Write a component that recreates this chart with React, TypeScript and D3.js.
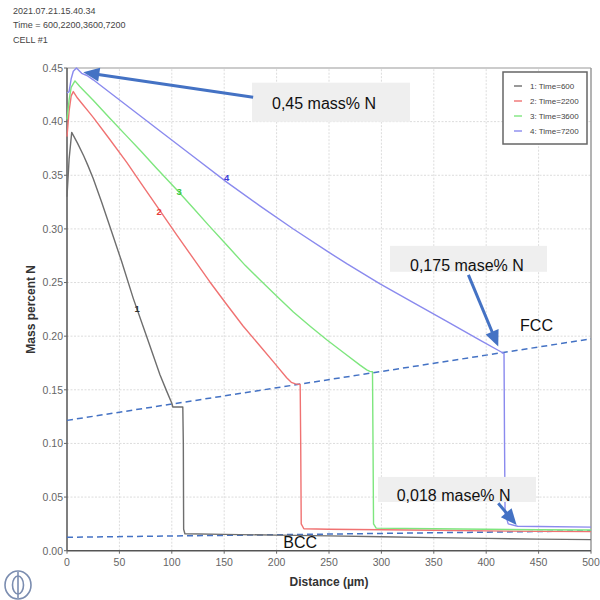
import React from "react";
import * as d3 from "d3";

// Nitrogen profiles across the cell at four diffusion times
const seriesNames = ["1:  Time=600", "2:  Time=2200", "3:  Time=3600", "4:  Time=7200"];
const seriesColors = ["#6e6e6e", "#f07272", "#7ee67e", "#8a8aee"];

const dist600 = [0, 2, 4.5, 10, 16, 20, 25, 33, 41, 52, 63.3, 76, 88.7, 95, 100, 101, 110.5, 111, 111.3, 112.5, 150, 200, 250, 300, 350, 400, 450, 500];
const mass600 = [0.33, 0.365, 0.39, 0.38, 0.368, 0.359, 0.347, 0.325, 0.302, 0.27, 0.235, 0.1996, 0.164, 0.149, 0.1375, 0.134, 0.134, 0.1, 0.02, 0.0158, 0.0152, 0.0145, 0.0138, 0.013, 0.0122, 0.0115, 0.0108, 0.0103];

const dist2200 = [0, 2, 4, 6, 10, 15, 20, 25, 40, 57, 72, 88.7, 105, 120.5, 136, 152.4, 168, 184, 197, 209.6, 214, 218, 222.5, 223, 223.5, 226, 250, 300, 350, 400, 450, 500];
const mass2200 = [0.386, 0.41, 0.424, 0.428, 0.422, 0.416, 0.41, 0.404, 0.3845, 0.362, 0.3405, 0.317, 0.294, 0.2725, 0.251, 0.2295, 0.2095, 0.191, 0.176, 0.1612, 0.157, 0.1555, 0.155, 0.1, 0.025, 0.0205, 0.02, 0.0195, 0.019, 0.0185, 0.018, 0.0178];

const dist3600 = [0, 2, 4, 7.6, 12, 18, 25, 40, 57, 70, 85, 104.7, 120, 135, 152.4, 170, 184, 200, 216, 232, 247.8, 265, 279.6, 286, 289, 291.5, 292, 292.5, 295, 350, 400, 450, 500];
const mass3600 = [0.402, 0.42, 0.432, 0.438, 0.433, 0.427, 0.42, 0.404, 0.3865, 0.373, 0.357, 0.3365, 0.32, 0.3035, 0.285, 0.266, 0.2525, 0.2375, 0.2225, 0.2092, 0.1966, 0.1838, 0.173, 0.1686, 0.1672, 0.1668, 0.1, 0.025, 0.021, 0.0205, 0.02, 0.0195, 0.0193];

const dist7200 = [0, 2, 4, 6, 9, 14, 19, 25, 57, 88.7, 120.5, 152.4, 184, 216, 250, 266.9, 298.7, 330.5, 362, 394, 414.8, 417, 417.5, 418, 421, 430, 450, 500];
const mass7200 = [0.4267, 0.428, 0.44, 0.447, 0.45, 0.445, 0.443, 0.439, 0.415, 0.3913, 0.3675, 0.3436, 0.3215, 0.2999, 0.2781, 0.2676, 0.2488, 0.2313, 0.214, 0.1964, 0.185, 0.184, 0.1, 0.035, 0.025, 0.0228, 0.0225, 0.022];

// Curve number labels (distance, mass%)
const curveLabels = ["1", "2", "3", "4"];
const curveLabelX = [67, 88, 107, 152.4];
const curveLabelY = [0.226, 0.316, 0.335, 0.348];

// Phase boundary guide lines (distance, mass%)
const fccLineX = [0, 500];
const fccLineY = [0.1215, 0.1975];
const bccLineX = [0, 500];
const bccLineY = [0.0125, 0.0185];

const xTicks = [0, 50, 100, 150, 200, 250, 300, 350, 400, 450, 500];
const yTicks = [0, 0.05, 0.1, 0.15, 0.2, 0.25, 0.3, 0.35, 0.4, 0.45];

const headerLines = ["2021.07.21.15.40.34", "Time = 600,2200,3600,7200", "CELL #1"];

// Callouts: box corners, text anchor and arrow tail/tip in data units
const calloutTexts = ["0,45 mass% N", "0,175 mase% N", "0,018 mase% N"];
const calloutBoxX = [[176.5, 327.3], [308.2, 458], [296.8, 447.5]];
const calloutBoxY = [[0.4363, 0.3999], [0.2842, 0.26], [0.0688, 0.0454]];
const calloutTextX = [195.6, 327.3, 314.6];
const calloutTextY = [0.412, 0.2606, 0.0461];
const arrowFrom = [[177.6, 0.4227], [383, 0.2572], [411.5, 0.0442]];
const arrowTo = [[15.6, 0.446], [411.5, 0.1903], [429, 0.024]];

const phaseNames = ["FCC", "BCC"];
const phaseX = [432.3, 206.4];
const phaseY = [0.2045, 0.0022];

const W = 600;
const H = 600;
const margin = { top: 68, right: 9, bottom: 49.3, left: 67 };
const FONT = "'Liberation Sans', Arial, Helvetica, sans-serif";
const ARROW = "#4472c4";

export default function App() {
  const x = d3.scaleLinear().domain([0, 500]).range([margin.left, W - margin.right]);
  const y = d3.scaleLinear().domain([0, 0.45]).range([H - margin.bottom, margin.top]);

  const series = [
    [dist600, mass600],
    [dist2200, mass2200],
    [dist3600, mass3600],
    [dist7200, mass7200],
  ];
  const line = d3
    .line<[number, number]>()
    .x((d) => x(d[0]))
    .y((d) => y(d[1]));

  const arrowHead = (fx: number, fy: number, tx: number, ty: number, len: number, half: number) => {
    const dx = tx - fx;
    const dy = ty - fy;
    const L = Math.hypot(dx, dy);
    const ux = dx / L;
    const uy = dy / L;
    const bx = tx - ux * len;
    const by = ty - uy * len;
    return {
      shaftEnd: [bx + ux * 1, by + uy * 1],
      points: `${tx},${ty} ${bx - uy * half},${by + ux * half} ${bx + uy * half},${by - ux * half}`,
    };
  };

  const x0 = x(0);
  const x1 = x(500);
  const y0 = y(0);
  const y1 = y(0.45);

  return (
    <svg
      width={W}
      height={H}
      style={{ position: "absolute", left: 0, top: 0, background: "#fff" }}
      fontFamily={FONT}
    >
      <rect x={0} y={0} width={W} height={H} fill="#fff" />

      {headerLines.map((t, i) => (
        <text key={t} x={13} y={13.5 + i * 14.5} fontSize={9} fill="#444">
          {t}
        </text>
      ))}

      {/* grid */}
      <g stroke="#dcdcdc" strokeWidth={1} strokeDasharray="2,1.5">
        {xTicks.slice(1, -1).map((t) => (
          <line key={"gx" + t} x1={x(t)} x2={x(t)} y1={y0} y2={y1} />
        ))}
        {yTicks.slice(1, -1).map((t) => (
          <line key={"gy" + t} x1={x0} x2={x1} y1={y(t)} y2={y(t)} />
        ))}
      </g>

      {/* frame */}
      <line x1={x0} x2={x1} y1={y1} y2={y1} stroke="#9a9a9a" strokeWidth={1.2} />
      <line x1={x1} x2={x1} y1={y1} y2={y0} stroke="#9a9a9a" strokeWidth={1.5} />
      <line x1={x0} x2={x0} y1={y1} y2={y0} stroke="#555" strokeWidth={1.5} />
      <line x1={x0} x2={x1} y1={y0} y2={y0} stroke="#555" strokeWidth={1.5} />

      {/* ticks */}
      {yTicks.map((t) => (
        <g key={"yt" + t}>
          <line x1={x0 - 3} x2={x0} y1={y(t)} y2={y(t)} stroke="#666" />
          <text x={x0 - 4} y={y(t) + 3.8} fontSize={10.5} fill="#666" textAnchor="end">
            {t.toFixed(2)}
          </text>
        </g>
      ))}
      {xTicks.map((t) => (
        <g key={"xt" + t}>
          <line x1={x(t)} x2={x(t)} y1={y0} y2={y0 + 3} stroke="#666" />
          <text x={x(t)} y={y0 + 15} fontSize={10.5} fill="#666" textAnchor="middle">
            {t}
          </text>
        </g>
      ))}

      <text x={(x0 + x1) / 2} y={586} fontSize={12} fontWeight="bold" fill="#333" textAnchor="middle">
        Distance (µm)
      </text>
      <text
        transform={`translate(35, ${(y0 + y1) / 2}) rotate(-90)`}
        fontSize={12}
        fontWeight="bold"
        fill="#333"
        textAnchor="middle"
      >
        Mass percent N
      </text>

      {/* phase boundary guides */}
      <line
        x1={x(fccLineX[0])}
        y1={y(fccLineY[0])}
        x2={x(fccLineX[1])}
        y2={y(fccLineY[1])}
        stroke={ARROW}
        strokeWidth={1.5}
        strokeDasharray="6,4"
      />
      <line
        x1={x(bccLineX[0])}
        y1={y(bccLineY[0])}
        x2={x(bccLineX[1])}
        y2={y(bccLineY[1])}
        stroke={ARROW}
        strokeWidth={1.5}
        strokeDasharray="6,4"
      />

      {/* profiles */}
      {series.map(([xs, ys], i) => (
        <path
          key={"s" + i}
          d={line(xs.map((d, j) => [d, ys[j]] as [number, number])) || ""}
          fill="none"
          stroke={seriesColors[i]}
          strokeWidth={1.4}
          strokeLinejoin="round"
        />
      ))}

      {curveLabels.map((l, i) => (
        <text
          key={"cl" + l}
          x={x(curveLabelX[i])}
          y={y(curveLabelY[i]) + 3.5}
          fontSize={9.5}
          fontWeight="bold"
          textAnchor="middle"
          fill={["#333", "#e83a3a", "#3cc83c", "#3a3ad8"][i]}
        >
          {l}
        </text>
      ))}

      {/* legend */}
      <g>
        <rect x={503} y={72} width={84} height={72} fill="#fff" stroke="#666" strokeWidth={1.5} />
        {seriesNames.map((n, i) => (
          <g key={n}>
            <line x1={514} x2={522} y1={86 + i * 15} y2={86 + i * 15} stroke={seriesColors[i]} strokeWidth={1.4} />
            <text x={530} y={89 + i * 15} fontSize={8} fill="#444">
              {n}
            </text>
          </g>
        ))}
      </g>

      {/* callouts */}
      {calloutTexts.map((t, i) => {
        const bx0 = x(calloutBoxX[i][0]);
        const bx1 = x(calloutBoxX[i][1]);
        const by0 = y(calloutBoxY[i][0]);
        const by1 = y(calloutBoxY[i][1]);
        return (
          <g key={t}>
            <rect x={bx0} y={by0} width={bx1 - bx0} height={by1 - by0} fill="#efefef" />
            <text x={x(calloutTextX[i])} y={y(calloutTextY[i])} fontSize={16} fill="#111">
              {t}
            </text>
          </g>
        );
      })}
      {arrowFrom.map((f, i) => {
        const fx = x(f[0]);
        const fy = y(f[1]);
        const tx = x(arrowTo[i][0]);
        const ty = y(arrowTo[i][1]);
        const h = arrowHead(fx, fy, tx, ty, 16, 7);
        return (
          <g key={"ar" + i}>
            <line x1={fx} y1={fy} x2={h.shaftEnd[0]} y2={h.shaftEnd[1]} stroke={ARROW} strokeWidth={3} />
            <polygon points={h.points} fill={ARROW} />
          </g>
        );
      })}

      {phaseNames.map((p, i) => (
        <text key={p} x={x(phaseX[i])} y={y(phaseY[i])} fontSize={16} fill="#111">
          {p}
        </text>
      ))}

      {/* logo */}
      <g fill="none" stroke="#7b8db0" strokeWidth={1.6}>
        <ellipse cx={18} cy={585} rx={13} ry={14} />
        <ellipse cx={18} cy={585} rx={5.5} ry={9} />
        <line x1={18} x2={18} y1={572} y2={598} />
      </g>
    </svg>
  );
}
